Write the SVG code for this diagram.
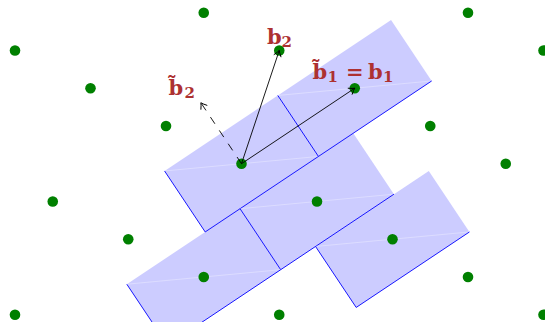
<svg xmlns="http://www.w3.org/2000/svg" xmlns:xlink="http://www.w3.org/1999/xlink" width="545" height="322" viewBox="0 0 545 322">
<style>
.fill{fill:#ccccff;stroke:none}
.edge{fill:none;stroke:#0000ff;stroke-width:0.9;stroke-linejoin:miter}
.seam{fill:none;stroke:#ffffff;stroke-width:0.7;stroke-opacity:0.45}
.dot{fill:#008000}
.vec{fill:none;stroke:#000000;stroke-width:0.9}
.dash{stroke-dasharray:8 8}
.lbl{font-family:"DejaVu Serif","Liberation Serif",serif;font-weight:bold;fill:#ad3131}
.big{font-size:21px}
.sub{font-size:15px}
</style>
<defs>
<marker id="arr" markerUnits="userSpaceOnUse" markerWidth="12" markerHeight="12" refX="0" refY="0" viewBox="-7 -6 8 12" orient="auto" overflow="visible">
<path d="M -5.5 -3.6 Q -1.8 -0.7 0 0 Q -1.8 0.7 -5.5 3.6" fill="none" stroke="#000000" stroke-width="0.9" stroke-dasharray="none" stroke-linecap="round"/>
</marker>
<polygon id="cellFill" class="fill" points="-76.95,7.26 -36.30,68.24 76.95,-7.26 36.30,-68.24"/>
<g id="cellEdge">
<line class="seam" x1="-76.95" y1="7.26" x2="76.95" y2="-7.26"/>
<polyline class="edge" points="-76.95,7.26 -36.30,68.24 76.95,-7.26"/>
</g>
</defs>
<g id="cells">
<use xlink:href="#cellFill" href="#cellFill" x="241.5" y="163.7"/>
<use xlink:href="#cellFill" href="#cellFill" x="354.75" y="88.2"/>
<use xlink:href="#cellFill" href="#cellFill" x="317" y="201.45"/>
<use xlink:href="#cellFill" href="#cellFill" x="392.5" y="239.2"/>
<use xlink:href="#cellFill" href="#cellFill" x="203.75" y="276.95"/>
<use xlink:href="#cellEdge" href="#cellEdge" x="241.5" y="163.7"/>
<use xlink:href="#cellEdge" href="#cellEdge" x="354.75" y="88.2"/>
<use xlink:href="#cellEdge" href="#cellEdge" x="317" y="201.45"/>
<use xlink:href="#cellEdge" href="#cellEdge" x="392.5" y="239.2"/>
<use xlink:href="#cellEdge" href="#cellEdge" x="203.75" y="276.95"/>
</g>
<g id="lattice">
<circle id="p1" class="dot" cx="203.75" cy="12.7" r="5.3"/>
<circle id="p2" class="dot" cx="468" cy="12.7" r="5.3"/>
<circle id="p3" class="dot" cx="15" cy="50.45" r="5.3"/>
<circle id="p4" class="dot" cx="279.25" cy="50.45" r="5.3"/>
<circle id="p5" class="dot" cx="543.5" cy="50.45" r="5.3"/>
<circle id="p6" class="dot" cx="90.5" cy="88.2" r="5.3"/>
<circle id="p7" class="dot" cx="354.75" cy="88.2" r="5.3"/>
<circle id="p8" class="dot" cx="166" cy="125.95" r="5.3"/>
<circle id="p9" class="dot" cx="430.25" cy="125.95" r="5.3"/>
<circle id="p10" class="dot" cx="241.5" cy="163.7" r="5.3"/>
<circle id="p11" class="dot" cx="505.75" cy="163.7" r="5.3"/>
<circle id="p12" class="dot" cx="52.75" cy="201.45" r="5.3"/>
<circle id="p13" class="dot" cx="317" cy="201.45" r="5.3"/>
<circle id="p14" class="dot" cx="128.25" cy="239.2" r="5.3"/>
<circle id="p15" class="dot" cx="392.5" cy="239.2" r="5.3"/>
<circle id="p16" class="dot" cx="203.75" cy="276.95" r="5.3"/>
<circle id="p17" class="dot" cx="468" cy="276.95" r="5.3"/>
<circle id="p18" class="dot" cx="15" cy="314.7" r="5.3"/>
<circle id="p19" class="dot" cx="279.25" cy="314.7" r="5.3"/>
<circle id="p20" class="dot" cx="543.5" cy="314.7" r="5.3"/>
</g>
<g id="connectors">
<line id="v-b1" class="vec" x1="241.5" y1="163.7" x2="354.75" y2="88.2" marker-end="url(#arr)"/>
<line id="v-b2" class="vec" x1="241.5" y1="163.7" x2="279.25" y2="50.45" marker-end="url(#arr)"/>
<line id="v-b2t" class="vec dash" x1="241.5" y1="163.7" x2="200.85" y2="102.72" marker-end="url(#arr)"/>
</g>
<g id="label-b2t" class="lbl">
<text class="big" x="168.5" y="95">b̃</text>
<text class="sub" x="184.5" y="98">2</text>
</g>
<g id="label-b2" class="lbl">
<text class="big" x="267" y="43.5">b</text>
<text class="sub" x="281.5" y="46.5">2</text>
</g>
<g id="label-b1" class="lbl">
<text class="big" x="312.5" y="79.3">b̃</text>
<text class="sub" x="327.5" y="82.3">1</text>
<text class="big" x="346" y="79.3">=</text>
<text class="big" x="368" y="79.3">b</text>
<text class="sub" x="383" y="82.3">1</text>
</g>
</svg>
